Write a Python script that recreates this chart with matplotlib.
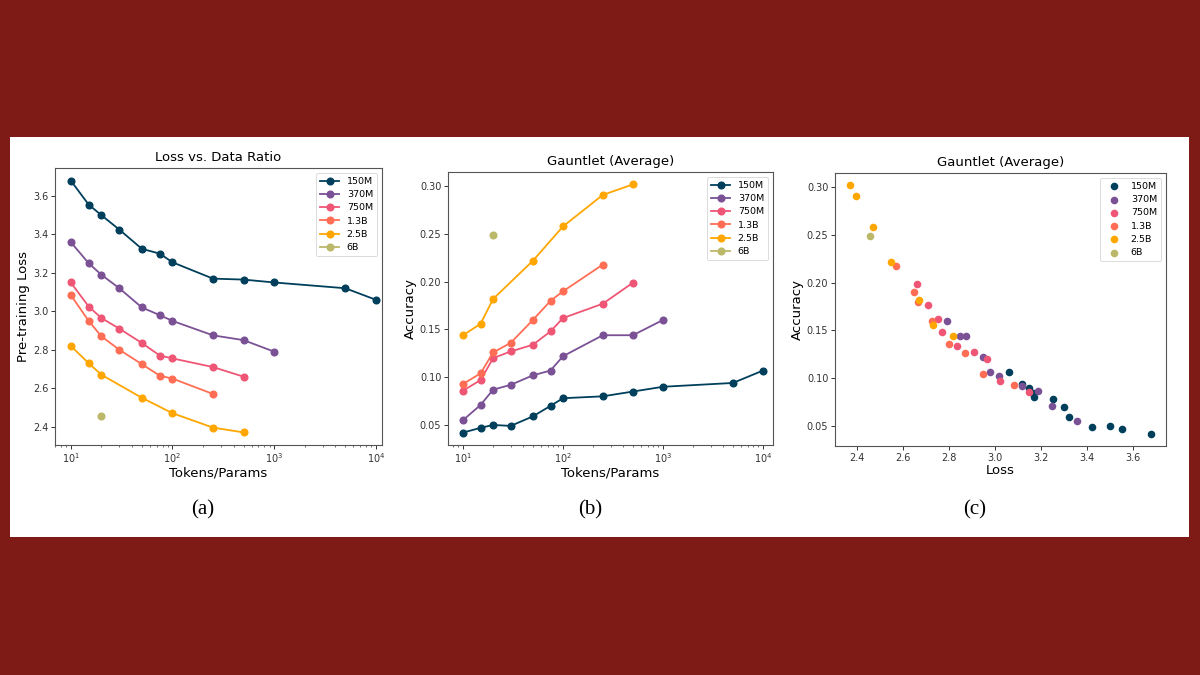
import matplotlib
matplotlib.use("Agg")
import matplotlib.pyplot as plt
from matplotlib.patches import Rectangle
import numpy as np

models = ["150M", "370M", "750M", "1.3B", "2.5B", "6B"]
colors = ["#003f5c", "#7a5195", "#ef5675", "#ff6e54", "#ffa600", "#bcb86a"]

ratio_150M = [10, 15, 20, 30, 50, 75, 100, 250, 500, 1000, 5000, 10000]
loss_150M = [3.68, 3.555, 3.50, 3.425, 3.325, 3.30, 3.255, 3.17, 3.165, 3.15, 3.12, 3.06]
acc_150M = [0.042, 0.047, 0.050, 0.049, 0.059, 0.070, 0.078, 0.080, 0.085, 0.090, 0.094, 0.107]

ratio_370M = [10, 15, 20, 30, 50, 75, 100, 250, 500, 1000]
loss_370M = [3.36, 3.25, 3.19, 3.12, 3.02, 2.98, 2.95, 2.875, 2.85, 2.79]
acc_370M = [0.055, 0.071, 0.087, 0.092, 0.102, 0.107, 0.122, 0.144, 0.144, 0.160]

ratio_750M = [10, 15, 20, 30, 50, 75, 100, 250, 500]
loss_750M = [3.15, 3.025, 2.965, 2.91, 2.835, 2.77, 2.755, 2.71, 2.66]
acc_750M = [0.086, 0.097, 0.120, 0.127, 0.134, 0.148, 0.162, 0.177, 0.199]

ratio_1_3B = [10, 15, 20, 30, 50, 75, 100, 250]
loss_1_3B = [3.085, 2.95, 2.87, 2.80, 2.725, 2.665, 2.65, 2.57]
acc_1_3B = [0.093, 0.104, 0.126, 0.136, 0.160, 0.180, 0.190, 0.218]

ratio_2_5B = [10, 15, 20, 50, 100, 250, 500]
loss_2_5B = [2.82, 2.73, 2.67, 2.55, 2.47, 2.395, 2.37]
acc_2_5B = [0.144, 0.156, 0.182, 0.222, 0.258, 0.291, 0.302]

ratio_6B = [20]
loss_6B = [2.455]
acc_6B = [0.249]

ratios = [ratio_150M, ratio_370M, ratio_750M, ratio_1_3B, ratio_2_5B, ratio_6B]
losses = [loss_150M, loss_370M, loss_750M, loss_1_3B, loss_2_5B, loss_6B]
accs = [acc_150M, acc_370M, acc_750M, acc_1_3B, acc_2_5B, acc_6B]

fig = plt.figure(figsize=(12, 6.75), dpi=100)
fig.patch.set_facecolor("#7e1b17")
fig.patches.append(Rectangle((10/1200, 1-537/675), 1179/1200, 400/675,
                             transform=fig.transFigure, facecolor="white",
                             edgecolor="none", zorder=-5))

tick_fs = 7
label_fs = 9.5
title_fs = 9.5
leg_fs = 6.8
ms = 4.8
lw = 1.3

ax_a = fig.add_axes([55/1200, 1-445/675, 327/1200, 277/675])
ax_b = fig.add_axes([448/1200, 1-445/675, 325/1200, 273/675])
ax_c = fig.add_axes([835/1200, 1-446/675, 331/1200, 273/675])

for m, c, r, l in zip(models, colors, ratios, losses):
    ax_a.plot(r, l, marker="o", color=c, label=m, markersize=ms, linewidth=lw)
ax_a.set_xscale("log")
ax_a.set_xlim(10**0.845, 10**4.06)
ax_a.set_title("Loss vs. Data Ratio", fontsize=title_fs, pad=5)
ax_a.set_xlabel("Tokens/Params", fontsize=label_fs, labelpad=1)
ax_a.set_ylabel("Pre-training Loss", fontsize=label_fs, labelpad=2)

for m, c, r, a in zip(models, colors, ratios, accs):
    ax_b.plot(r, a, marker="o", color=c, label=m, markersize=ms, linewidth=lw)
ax_b.set_xscale("log")
ax_b.set_xlim(10**0.85, 10**4.1)
ax_b.set_title("Gauntlet (Average)", fontsize=title_fs, pad=5)
ax_b.set_xlabel("Tokens/Params", fontsize=label_fs, labelpad=1)
ax_b.set_ylabel("Accuracy", fontsize=label_fs, labelpad=2)

for m, c, l, a in zip(models, colors, losses, accs):
    ax_c.scatter(l, a, color=c, label=m, s=30, linewidths=0)
ax_c.set_title("Gauntlet (Average)", fontsize=title_fs, pad=5)
ax_c.set_xlabel("Loss", fontsize=label_fs, labelpad=1)
ax_c.set_ylabel("Accuracy", fontsize=label_fs, labelpad=2)

for ax in (ax_a, ax_b, ax_c):
    ax.tick_params(which="major", labelsize=tick_fs, colors="#333333",
                   length=2.6, width=0.7, pad=2.2)
    ax.tick_params(which="minor", colors="#333333", length=1.5, width=0.5)
    for s in ax.spines.values():
        s.set_color("#555555")
    leg = ax.legend(loc="upper right", fontsize=leg_fs, labelspacing=0.45,
                    handlelength=2.0, borderpad=0.45)
    leg.get_frame().set_linewidth(0.6)

for x, t in [(203, "(a)"), (590, "(b)"), (975, "(c)")]:
    fig.text(x/1200, 1-510/675, t, ha="center", va="center",
             fontsize=15, family="Liberation Serif")

fig.savefig("out.png", dpi=100, facecolor=fig.get_facecolor())
